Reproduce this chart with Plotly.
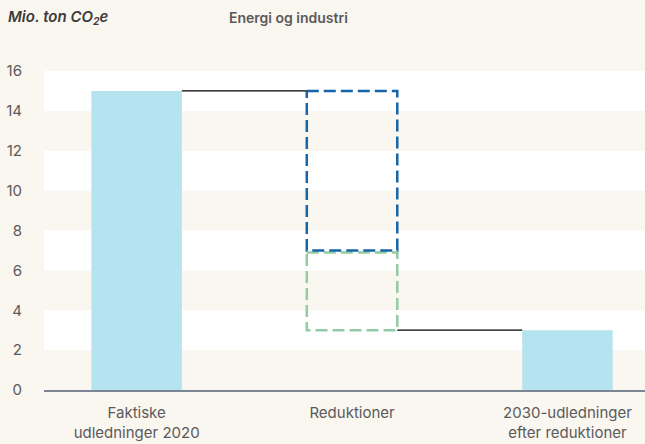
import plotly.graph_objects as go

bg = "#FAF6F0"
bar_blue = "#B5E3EF"
dash_blue = "#1565A8"
dash_green = "#93CBA4"
txt = "#5A5A5A"

categories = ["Faktiske<br>udledninger 2020", "Reduktioner", "2030-udledninger<br>efter reduktioner"]
actual_2020 = 15
reduction_1 = 8   # blue dashed
reduction_2 = 4   # green dashed
after_2030 = 3

y_ticks = [0, 2, 4, 6, 8, 10, 12, 14, 16]
white_bands = [(2, 4), (6, 8), (10, 12), (14, 16)]

w = 0.42
xs = [0, 1, 2]

fig = go.Figure()

fig.add_trace(go.Bar(
    x=[xs[0], xs[2]], y=[actual_2020, after_2030], width=w,
    marker=dict(color=bar_blue, line=dict(width=0)),
    hoverinfo="skip"
))


def dashed_box(xc, lo, hi, color):
    return go.Scatter(
        x=[xc - w / 2, xc + w / 2, xc + w / 2, xc - w / 2, xc - w / 2],
        y=[hi, hi, lo, lo, hi],
        mode="lines", line=dict(color=color, width=2.5, dash="12px,5px"),
        hoverinfo="skip"
    )


top1 = actual_2020
bot1 = actual_2020 - reduction_1
bot2 = bot1 - reduction_2
fig.add_trace(dashed_box(xs[1], bot2, bot1 - 0.1, dash_green))
fig.add_trace(dashed_box(xs[1], bot1, top1, dash_blue))

# connectors
fig.add_trace(go.Scatter(
    x=[xs[0] + w / 2, xs[1] - w / 2], y=[top1, top1], mode="lines",
    line=dict(color="black", width=1.2), hoverinfo="skip"
))
fig.add_trace(go.Scatter(
    x=[xs[1] + w / 2, xs[2] - w / 2], y=[after_2030, after_2030], mode="lines",
    line=dict(color="black", width=1.2), hoverinfo="skip"
))

fig.update_layout(
    width=645, height=444,
    paper_bgcolor=bg, plot_bgcolor=bg,
    margin=dict(l=44, r=0, t=71, b=54),
    showlegend=False,
    font=dict(family="Inter", color=txt, size=15),
    shapes=[
        dict(type="rect", xref="paper", yref="y", x0=0, x1=1, y0=a, y1=b,
             fillcolor="white", line=dict(width=0), layer="below")
        for a, b in white_bands
    ],
    xaxis=dict(
        range=[-0.43, 2.36], tickvals=xs, ticktext=categories,
        showgrid=False, zeroline=False,
        showline=True, linecolor="#7C8593", linewidth=2,
        ticks="", ticklabelstandoff=8, tickfont=dict(size=15, color=txt),
    ),
    yaxis=dict(
        range=[0, 16], tickvals=y_ticks, showgrid=False, zeroline=False,
        showline=False, ticks="", ticklabelstandoff=21,
        tickfont=dict(size=15, color=txt),
    ),
    title=dict(
        text="Mio. ton CO<sub>2</sub>e", xref="container", x=8 / 645, xanchor="left",
        yref="container", y=1 - 17 / 444, yanchor="middle",
        font=dict(family="Inter", size=15, color="#3A3A3A", style="italic", weight=600),
    ),
    annotations=[dict(
        text="Energi og industri", xref="paper", yref="paper",
        x=(288 - 44) / 601, y=(390 - 17) / 319, xanchor="center", yanchor="middle",
        showarrow=False, font=dict(family="Inter", size=14, color=txt, weight=600),
    )],
)

fig.write_html(
    "out.html", config=dict(displayModeBar=False),
    post_script="document.body.style.margin='0';document.body.style.overflow='hidden';",
)
